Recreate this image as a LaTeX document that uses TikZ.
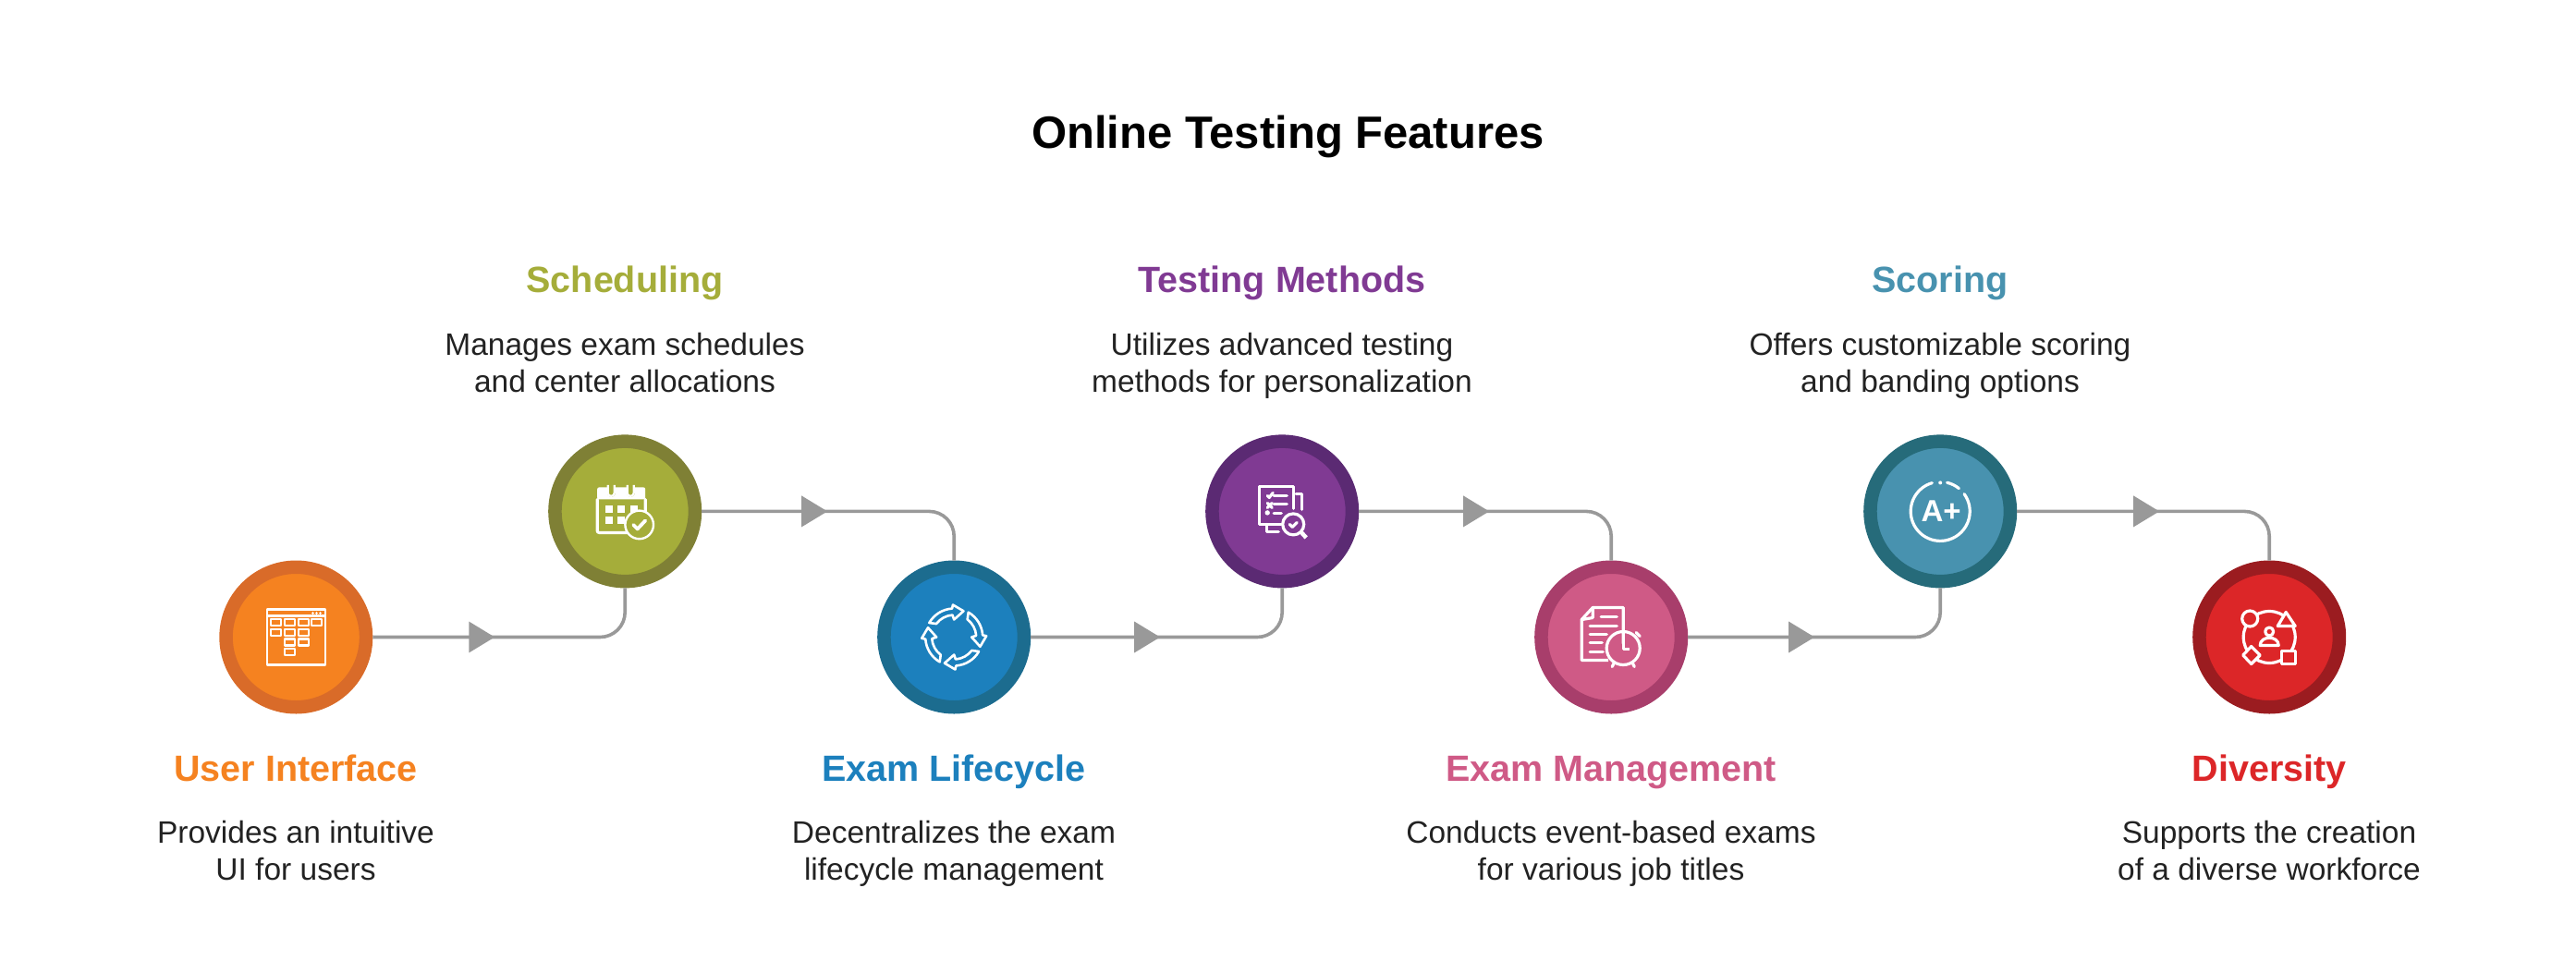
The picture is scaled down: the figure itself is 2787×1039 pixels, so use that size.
\documentclass[tikz,border=0pt]{standalone}
\usepackage{fontspec}
\setmainfont{Liberation Sans}
\usetikzlibrary{arrows.meta,decorations.markings}
\definecolor{uiFill}{HTML}{F58220}
\definecolor{uiRing}{HTML}{D96B29}
\definecolor{schedFill}{HTML}{A5AD3A}
\definecolor{schedRing}{HTML}{7F8035}
\definecolor{lifeFill}{HTML}{1C80BD}
\definecolor{lifeRing}{HTML}{1C6C8F}
\definecolor{methodFill}{HTML}{803A93}
\definecolor{methodRing}{HTML}{5B2A73}
\definecolor{manageFill}{HTML}{CF5A86}
\definecolor{manageRing}{HTML}{A83E6B}
\definecolor{scoreFill}{HTML}{4892AF}
\definecolor{scoreRing}{HTML}{266B7A}
\definecolor{diverseFill}{HTML}{DC2628}
\definecolor{diverseRing}{HTML}{9B1C20}
\definecolor{flowGray}{HTML}{999999}
\definecolor{bodyText}{HTML}{222222}

\begin{document}
\begin{tikzpicture}[x=1pt, y=1pt,
		disc/.style 2 args={circle, draw=#2, fill=#1, line width=14.5pt, minimum size=151.5pt, inner sep=0pt},
		flow/.style={draw=flowGray, line width=3.6pt, rounded corners=27pt, postaction={decorate},
			decoration={markings, mark=at position #1 with {\arrow{Triangle[length=28pt, width=33pt]}}}},
		heading/.style={anchor=base, font=\fontsize{39.5}{47}\selectfont\bfseries},
		detail/.style={anchor=base, align=center, text=bodyText, font=\fontsize{33.5}{40}\selectfont},
		icon/.style={draw=white, line width=3.2pt, line join=round, line cap=round},
		thinicon/.style={draw=white, line width=2.2pt, line join=round}]
	\useasboundingbox (0,0) rectangle (2787,-1039);

	\node[anchor=base, font=\fontsize{49}{60}\selectfont\bfseries] (title) at (1393.5,-160) {Online Testing Features};

	\node[disc={uiFill}{uiRing}] (ui) at (320.3,-689.5) {};
	\node[disc={schedFill}{schedRing}] (sched) at (676.2,-553.4) {};
	\node[disc={lifeFill}{lifeRing}] (life) at (1032.2,-689.5) {};
	\node[disc={methodFill}{methodRing}] (method) at (1387.2,-553.4) {};
	\node[disc={manageFill}{manageRing}] (manage) at (1743.2,-689.5) {};
	\node[disc={scoreFill}{scoreRing}] (score) at (2099.2,-553.4) {};
	\node[disc={diverseFill}{diverseRing}] (diverse) at (2455.2,-689.5) {};

	\draw[flow=132pt] (ui.east) -| (sched.south);
	\draw[flow=136pt] (sched.east) -| (life.north);
	\draw[flow=140pt] (life.east) -| (method.south);
	\draw[flow=141pt] (method.east) -| (manage.north);
	\draw[flow=137pt] (manage.east) -| (score.south);
	\draw[flow=154pt] (score.east) -| (diverse.north);

	\node[heading, text=uiFill] (uiHead) at (320,-845) {User Interface};
	\node[detail] (uiText) at (320,-952) {Provides an intuitive\\UI for users};
	\node[heading, text=schedFill] (schedHead) at (676,-316) {Scheduling};
	\node[detail] (schedText) at (676,-424.5) {Manages exam schedules\\and center allocations};
	\node[heading, text=lifeFill] (lifeHead) at (1032,-845) {Exam Lifecycle};
	\node[detail] (lifeText) at (1032,-952) {Decentralizes the exam\\lifecycle management};
	\node[heading, text=methodFill] (methodHead) at (1387,-316) {Testing Methods};
	\node[detail] (methodText) at (1387,-424.5) {Utilizes advanced testing\\methods for personalization};
	\node[heading, text=manageFill] (manageHead) at (1743,-845) {Exam Management};
	\node[detail] (manageText) at (1743,-952) {Conducts event-based exams\\for various job titles};
	\node[heading, text=scoreFill] (scoreHead) at (2099,-316) {Scoring};
	\node[detail] (scoreText) at (2099,-424.5) {Offers customizable scoring\\and banding options};
	\node[heading, text=diverseFill] (diverseHead) at (2455,-845) {Diversity};
	\node[detail] (diverseText) at (2455,-952) {Supports the creation\\of a diverse workforce};

	\begin{scope}[shift={(ui.center)}]
		\draw[thinicon] (-31,-30) rectangle (32,30);
		\draw[thinicon] (-31,23) -- (32,23);
		\foreach \px in {18,22,26}
			\draw[white, line width=1pt] (\px-1.5,26.5) -- (\px+1.5,26.5) (\px,25) -- (\px,28);
		\foreach \bx/\by in {-22/16,-7/16,8/16,22/16,-22/5,-7/5,8/5,-7/-5.5,8/-5.5,-7/-16}
			\draw[thinicon] (\bx-5.5,\by-3.5) rectangle (\bx+5.5,\by+3.5);
	\end{scope}

	\begin{scope}[shift={(sched.center)}]
		\draw[icon, rounded corners=2pt] (-30,13) -- (-30,-23) -- (22,-23) -- (22,13);
		\fill[white, rounded corners=2pt] (-30,26) rectangle (22,13);
		\draw[schedFill, line width=9pt, line cap=round] (-15,28) -- (-15,20) (6,28) -- (6,20);
		\draw[white, line width=2.2pt] (-18.5,28.5) -- (-18.5,20) arc (180:360:3.5) -- (-11.5,28.5);
		\draw[white, line width=2.2pt] (2.5,28.5) -- (2.5,20) arc (180:360:3.5) -- (9.5,28.5);
		\foreach \bx/\by in {-17.5/2.5,-4/2.5,9.5/2.5,-17.5/-10,-4/-10}
			\fill[white] (\bx-4,\by-4) rectangle (\bx+4,\by+4);
		\draw[white, fill=schedFill, line width=2.4pt] (15.5,-14.5) circle (15.3);
		\draw[white, line width=3.8pt, line cap=round, line join=round] (9,-14.5) -- (13.5,-19) -- (22,-10);
	\end{scope}

	\begin{scope}[shift={(life.center)}]
		\foreach \turn in {0,-90,-180,-270}
			\draw[icon, line width=2.6pt, rotate=\turn] (150:31) arc[start angle=150, end angle=94, radius=31] -- (92:35) -- (70:30) -- (90:19) -- (94:24) arc[start angle=94, end angle=143, radius=24] -- cycle;
	\end{scope}

	\begin{scope}[shift={(method.center)}]
		\draw[icon] (12,3) -- (12,27) -- (-25,27) -- (-25,-14) -- (-1,-14);
		\draw[icon] (15,19) -- (21,19) -- (21,2);
		\draw[icon] (-17,-14) -- (-17,-22) -- (-4,-22);
		\draw[icon] (-16,17) -- (-14,15) -- (-10,20);
		\draw[icon] (-16,9) -- (-11,4) (-16,4) -- (-11,9);
		\fill[white] (-16,-1.5) circle (2.7);
		\draw[icon] (-9,17) -- (5,17) (-9,8) -- (5,8) (-9,-2) -- (-1,-2);
		\draw[icon] (12,-14) circle (11.5);
		\draw[icon] (8,-14) -- (11,-17) -- (16,-12);
		\draw[white, line width=4.5pt] (20.5,-22.5) -- (26,-28.5);
	\end{scope}

	\begin{scope}[shift={(manage.center)}]
		\draw[icon, line cap=butt] (13,-7) -- (13,32) -- (-20,32) -- (-32,19) -- (-32,-25) -- (-3,-25);
		\draw[icon, line cap=butt] (-20,32) -- (-20,21) -- (-32,19);
		\draw[icon] (-11,22) -- (6,22) (-23,12) -- (6,12) (-23,3) -- (-5,3) (-23,-6) -- (-10,-6) (-23,-16) -- (-9,-16);
		\draw[icon] (13,-12) circle (18);
		\draw[icon, line cap=butt] (13,0) -- (13,-13) -- (20,-13);
		\draw[icon] (27,5) -- (31,1);
		\draw[icon] (3,-28) -- (1,-32) (23,-28) -- (25,-32);
	\end{scope}

	\begin{scope}[shift={(score.center)}]
		\draw[icon] (106:32) arc[start angle=106, end angle=396, radius=32];
		\draw[icon] (76.7:32) arc[start angle=76.7, end angle=50.8, radius=32];
		\fill[white] (90:31) circle (2);
		\node[text=white, font=\fontsize{33}{40}\selectfont\bfseries] (grade) at (1,0) {A+};
	\end{scope}

	\begin{scope}[shift={(diverse.center)}]
		\draw[icon] (0,0) circle (28);
		\draw[icon, fill=diverseFill] (-21,20) circle (8.5);
		\draw[icon, fill=diverseFill] (18,27) -- (28,12) -- (9,12) -- cycle;
		\draw[icon, fill=diverseFill] (13,-29) rectangle (28,-15);
		\draw[icon, fill=diverseFill] (-19.5,-29) -- (-10,-19.5) -- (-19.5,-10) -- (-28.5,-19.5) -- cycle;
		\draw[icon] (0,6) circle (4.5);
		\draw[icon] (-10,-9) -- (10,-9) .. controls (10,2) and (-10,2) .. cycle;
	\end{scope}
\end{tikzpicture}
\end{document}
